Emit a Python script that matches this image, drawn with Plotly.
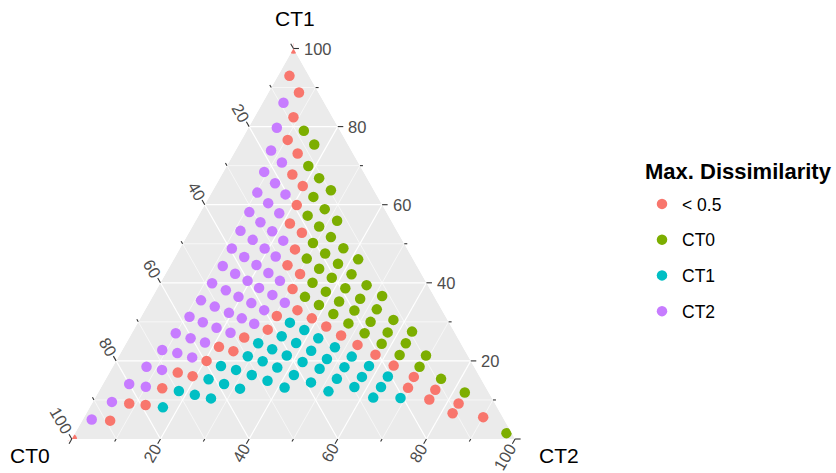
import plotly.graph_objects as go

# ---------------- data: compositions in percent (CT0, CT1, CT2) ----------------
CATEGORIES = ["< 0.5", "CT0", "CT1", "CT2"]
COLORS = ["#F8766D", "#7CAE00", "#00BFC4", "#C77CFF"]

lt05_ct0 = [0, 100, 4.4, 4.4, 8.8, 13.0, 12.5, 16.4, 15.5, 19.3, 23.2, 21.7, 25.4, 29.1, 27.4, 31.0, 32.6, 38.0, 30.4, 41.8, 28.2, 48.1, 26.0, 55.0, 52.3, 23.5, 59.6, 20.7, 67.6, 64.7, 18.0, 73.1, 14.9, 17.6, 82.5, 79.0, 11.7, 14.3, 89.0, 8.2, 10.8, 4.4]
lt05_ct1 = [100, 0, 93.0, 88.8, 82.4, 76.6, 73.2, 67.8, 64.8, 59.9, 55.2, 52.8, 48.6, 44.5, 42.3, 38.4, 33.0, 31.5, 30.9, 28.0, 28.8, 26.0, 26.5, 23.6, 22.5, 24.1, 20.0, 21.6, 17.0, 16.1, 18.8, 13.0, 15.9, 13.1, 9.1, 8.7, 12.6, 10.1, 4.7, 9.1, 6.6, 5.6]
lt05_ct2 = [0, 0, 2.6, 6.9, 8.8, 10.4, 14.4, 15.9, 19.7, 20.8, 21.6, 25.5, 26.1, 26.4, 30.4, 30.6, 34.4, 30.5, 38.7, 30.2, 43.0, 25.9, 47.5, 21.4, 25.2, 52.4, 20.4, 57.7, 15.4, 19.2, 63.2, 13.9, 69.2, 69.3, 8.4, 12.3, 75.7, 75.6, 6.3, 82.7, 82.6, 90.0]

ct0grp_ct0 = [8.2, 7.6, 11.7, 10.8, 9.7, 14.5, 13.5, 12.2, 18.2, 17.0, 15.7, 20.5, 14.3, 23.9, 19.1, 17.5, 12.4, 22.4, 20.7, 15.8, 25.7, 23.8, 19.0, 13.8, 29.2, 27.1, 22.1, 17.0, 11.7, 25.0, 19.8, 14.6, 22.8, 17.6, 12.2, 20.4, 15.1, 9.5, 17.9, 12.4, 15.3, 9.4, 12.3, 9.0, 5.4, 1.2]
ct0grp_ct1 = [79.0, 75.5, 69.9, 66.8, 63.7, 62.0, 58.8, 55.9, 57.2, 54.4, 51.7, 50.2, 48.8, 46.2, 47.5, 44.9, 46.0, 43.6, 41.3, 42.2, 40.0, 37.7, 38.6, 39.4, 36.4, 34.3, 35.2, 35.9, 36.6, 32.0, 32.9, 33.2, 29.6, 30.0, 30.5, 27.1, 27.3, 27.5, 24.4, 24.5, 21.5, 21.4, 18.5, 15.4, 11.9, 1.5]
ct0grp_ct2 = [12.9, 17.0, 18.4, 22.4, 26.6, 23.5, 27.6, 31.9, 24.6, 28.6, 32.6, 29.3, 36.8, 29.9, 33.4, 37.6, 41.6, 34.0, 38.0, 42.0, 34.3, 38.4, 42.4, 46.8, 34.4, 38.6, 42.7, 47.1, 51.7, 43.0, 47.3, 52.2, 47.6, 52.4, 57.3, 52.5, 57.6, 63.0, 57.7, 63.1, 63.2, 69.2, 69.2, 75.6, 82.7, 97.3]

ct1grp_ct0 = [35.9, 33.6, 39.5, 37.1, 31.5, 45.7, 43.3, 40.8, 34.7, 28.9, 49.7, 47.0, 44.5, 38.1, 32.2, 26.3, 57.0, 54.1, 51.2, 48.4, 41.7, 35.1, 29.3, 23.6, 61.5, 58.6, 55.6, 45.4, 38.8, 32.5, 26.6, 20.7, 69.7, 66.6, 63.4, 36.0, 29.6, 23.6, 75.4, 26.7, 20.6]
ct1grp_ct1 = [29.8, 27.9, 26.3, 24.6, 25.8, 24.5, 23.0, 21.4, 22.6, 23.5, 21.2, 19.9, 18.3, 19.7, 20.5, 21.1, 18.7, 17.7, 16.4, 14.9, 16.4, 18.0, 18.4, 18.7, 15.3, 14.1, 12.9, 13.2, 14.5, 15.4, 15.9, 16.0, 12.3, 11.3, 10.4, 12.2, 13.3, 13.3, 8.1, 10.6, 10.5]
ct1grp_ct2 = [34.3, 38.5, 34.2, 38.3, 42.7, 29.8, 33.7, 37.8, 42.7, 47.6, 29.1, 33.1, 37.2, 42.2, 47.3, 52.6, 24.3, 28.2, 32.4, 36.7, 41.9, 46.9, 52.3, 57.7, 23.2, 27.3, 31.5, 41.4, 46.7, 52.1, 57.5, 63.3, 18.0, 22.1, 26.2, 51.8, 57.1, 63.1, 16.5, 62.7, 68.9]

ct2grp_ct0 = [9.2, 13.9, 18.1, 17.2, 22.4, 21.4, 20.5, 26.6, 25.5, 24.3, 30.9, 29.7, 28.2, 26.9, 35.3, 33.7, 32.1, 30.6, 39.5, 37.8, 36.1, 34.4, 32.8, 43.8, 42.0, 40.1, 38.4, 36.3, 34.5, 48.4, 46.2, 44.2, 42.1, 40.1, 53.1, 50.8, 48.4, 46.2, 44.1, 57.8, 55.5, 53.1, 50.6, 63.0, 60.3, 57.6, 68.2, 65.2, 62.4, 73.9, 70.8, 80.0, 76.6, 86.2, 93.0]
ct2grp_ct1 = [86.1, 79.7, 73.9, 70.8, 68.4, 65.5, 62.7, 63.1, 60.4, 57.8, 58.1, 55.5, 53.2, 50.8, 53.3, 51.0, 48.8, 46.7, 48.8, 46.6, 44.6, 42.5, 40.5, 44.3, 42.3, 40.5, 38.7, 36.9, 34.9, 39.9, 38.1, 36.4, 34.8, 33.0, 35.5, 33.9, 32.3, 30.9, 29.5, 31.3, 29.9, 28.5, 27.2, 27.1, 25.8, 24.7, 22.8, 22.0, 20.9, 18.5, 17.7, 14.1, 13.4, 9.5, 5.0]
ct2grp_ct2 = [4.7, 6.4, 8.0, 12.0, 9.2, 13.1, 16.9, 10.3, 14.1, 17.9, 11.0, 14.8, 18.6, 22.3, 11.4, 15.3, 19.1, 22.6, 11.7, 15.6, 19.4, 23.1, 26.7, 11.9, 15.7, 19.4, 22.9, 26.8, 30.6, 11.7, 15.7, 19.4, 23.1, 26.9, 11.4, 15.3, 19.3, 22.9, 26.4, 10.9, 14.6, 18.4, 22.2, 9.9, 13.9, 17.7, 9.0, 12.8, 16.7, 7.6, 11.5, 5.9, 10.0, 4.3, 2.0]

AXIS_TITLES = ["CT0", "CT1", "CT2"]
TICK_VALUES = [0, 10, 20, 30, 40, 50, 60, 70, 80, 90, 100]
LABEL_VALUES = [20, 40, 60, 80, 100]
LABEL_TEXT = ["20", "40", "60", "80", "100"]
LEGEND_TITLE = "Max. Dissimilarity"

GROUPS = [
    (lt05_ct0, lt05_ct1, lt05_ct2),
    (ct0grp_ct0, ct0grp_ct1, ct0grp_ct2),
    (ct1grp_ct0, ct1grp_ct1, ct1grp_ct2),
    (ct2grp_ct0, ct2grp_ct1, ct2grp_ct2),
]

# ---------------- ternary -> plane projection ----------------
def tern(b, a, c):
    """b = CT0 (left), a = CT1 (top), c = CT2 (right); returns plane X, Y (0..100)."""
    s = a + b + c
    a, c = a / s * 100.0, c / s * 100.0
    return c + a / 2.0, a

# geometry of the drawing (pixels)
W, H = 836, 473
SX = 443.3 / 100.0      # px per X unit
SY = 390.5 / 100.0      # px per Y unit
PX0, PY0 = 71.8, 439.0  # pixel position of the CT0 corner
XR = [-PX0 / SX, (W - PX0) / SX]
YR = [(PY0 - H) / SY, PY0 / SY]

def shift(X, Y, dxp, dyp):
    return X + dxp / SX, Y - dyp / SY

FONT = "Liberation Sans, Arial, Helvetica, sans-serif"
TICK_COL = "#333333"
LAB_COL = "#4D4D4D"

fig = go.Figure()
for cat, col, (b, a, c) in zip(CATEGORIES, COLORS, GROUPS):
    xs, ys = [], []
    for bi, ai, ci in zip(b, a, c):
        X, Y = tern(bi, ai, ci)
        xs.append(X)
        ys.append(Y)
    fig.add_trace(go.Scatter(
        x=xs, y=ys, mode="markers", name=cat, legendgroup=cat,
        marker=dict(size=10.5, color=col, line=dict(width=0)),
        customdata=list(zip(b, a, c)),
        hovertemplate="CT0=%{customdata[0]}<br>CT1=%{customdata[1]}<br>CT2=%{customdata[2]}<extra>" + cat + "</extra>",
    ))

shapes = []
L = tern(100, 0, 0)
T = tern(0, 100, 0)
R = tern(0, 0, 100)
shapes.append(dict(type="path", xref="x", yref="y", layer="below",
                   path=f"M {L[0]},{L[1]} L {T[0]},{T[1]} L {R[0]},{R[1]} Z",
                   fillcolor="#EBEBEB", line=dict(width=0)))

# grid lines
for v in TICK_VALUES[1:-1]:
    lw = 1.2 if v % 20 == 0 else 0.6
    segs = [
        (tern(100 - v, v, 0), tern(0, v, 100 - v)),      # const CT1
        (tern(100 - v, 0, v), tern(0, 100 - v, v)),      # const CT2
        (tern(v, 100 - v, 0), tern(v, 0, 100 - v)),      # const CT0
    ]
    for p, q in segs:
        shapes.append(dict(type="line", xref="x", yref="y", layer="below",
                           x0=p[0], y0=p[1], x1=q[0], y1=q[1],
                           line=dict(color="white", width=lw)))

# masks outside the triangle (clip points at the corners)
ext = 25
mask_paths = [
    f"M {XR[0]},{YR[0]} L {L[0]},{L[1]} L {T[0]},{T[1]} L {T[0]},{YR[1]} L {XR[0]},{YR[1]} Z",
    f"M {T[0]},{YR[1]} L {T[0]},{T[1]} L {R[0]},{R[1]} L {R[0] + ext},{YR[0]} L {R[0] + ext},{YR[1]} Z",
    f"M {XR[0]},{YR[0]} L {R[0] + ext},{YR[0]} L {R[0]},{R[1]} L {L[0]},{L[1]} Z",
]
for pth in mask_paths:
    shapes.append(dict(type="path", xref="x", yref="y", layer="above", path=pth,
                       fillcolor="white", line=dict(width=0)))

# ticks and labels
DIRS = {
    "CT0": (-0.5, -0.866),   # left edge, up-left
    "CT2": (-0.5, 0.866),    # bottom edge, down-left
    "CT1": (1.0, 0.0),       # right edge, to the right
}
def edge_point(axis, v):
    if axis == "CT0":
        return tern(v, 100 - v, 0)
    if axis == "CT2":
        return tern(100 - v, 0, v)
    return tern(0, v, 100 - v)

annotations = []
TICK_FS = 16.5
for axis in ["CT0", "CT1", "CT2"]:
    ux, uy = DIRS[axis]
    for v in TICK_VALUES:
        ln = 5.5 if v % 20 == 0 else 3.0
        X, Y = edge_point(axis, v)
        X1, Y1 = shift(X, Y, ln * ux, ln * uy)
        shapes.append(dict(type="line", xref="x", yref="y", layer="above",
                           x0=X, y0=Y, x1=X1, y1=Y1,
                           line=dict(color=TICK_COL, width=1.1)))
    for v, txt in zip(LABEL_VALUES, LABEL_TEXT):
        X, Y = edge_point(axis, v)
        if axis == "CT1":
            lx, ly = shift(X, Y, 8.5, 0)
            annotations.append(dict(x=lx, y=ly, xref="x", yref="y", text=txt,
                                    showarrow=False, xanchor="left", yanchor="middle",
                                    font=dict(family=FONT, size=TICK_FS, color=LAB_COL)))
        else:
            off = 5.5 + 1.5 + 0.5 * len(txt) * 0.556 * TICK_FS
            lx, ly = shift(X, Y, off * ux, off * uy)
            ang = 60 if axis == "CT0" else -60
            annotations.append(dict(x=lx, y=ly, xref="x", yref="y", text=txt,
                                    showarrow=False, xanchor="center", yanchor="middle",
                                    textangle=ang,
                                    font=dict(family=FONT, size=TICK_FS, color=LAB_COL)))

# vertex titles
title_pos = {
    "CT0": shift(L[0], L[1], -41.5, 16.5),
    "CT1": shift(T[0], T[1], 1.5, -30.5),
    "CT2": shift(R[0], R[1], 44.0, 16.5),
}
for name in AXIS_TITLES:
    tx, ty = title_pos[name]
    annotations.append(dict(x=tx, y=ty, xref="x", yref="y", text=name, showarrow=False,
                            xanchor="center", yanchor="middle",
                            font=dict(family=FONT, size=21, color="black")))

# legend title (placed above the legend entries)
annotations.append(dict(x=643 / W, y=1 - 171.5 / H, xref="paper", yref="paper",
                        text="<b>" + LEGEND_TITLE + "</b>", showarrow=False,
                        xanchor="left", yanchor="middle",
                        font=dict(family=FONT, size=22, color="black")))

fig.update_layout(
    width=W, height=H, autosize=False,
    margin=dict(l=0, r=0, t=0, b=0, pad=0),
    paper_bgcolor="white", plot_bgcolor="white",
    xaxis=dict(range=XR, visible=False, fixedrange=True),
    yaxis=dict(range=YR, visible=False, fixedrange=True),
    shapes=shapes, annotations=annotations,
    showlegend=True,
    legend=dict(
        x=642 / W, y=1 - 186 / H, xanchor="left", yanchor="top",
        font=dict(family=FONT, size=17.5, color="black"),
        tracegroupgap=10, bgcolor="rgba(0,0,0,0)",
    ),
)

fig.write_html("out.html", include_plotlyjs=True, full_html=True,
               config={"displayModeBar": False},
               post_script="document.body.style.margin='0px';")
